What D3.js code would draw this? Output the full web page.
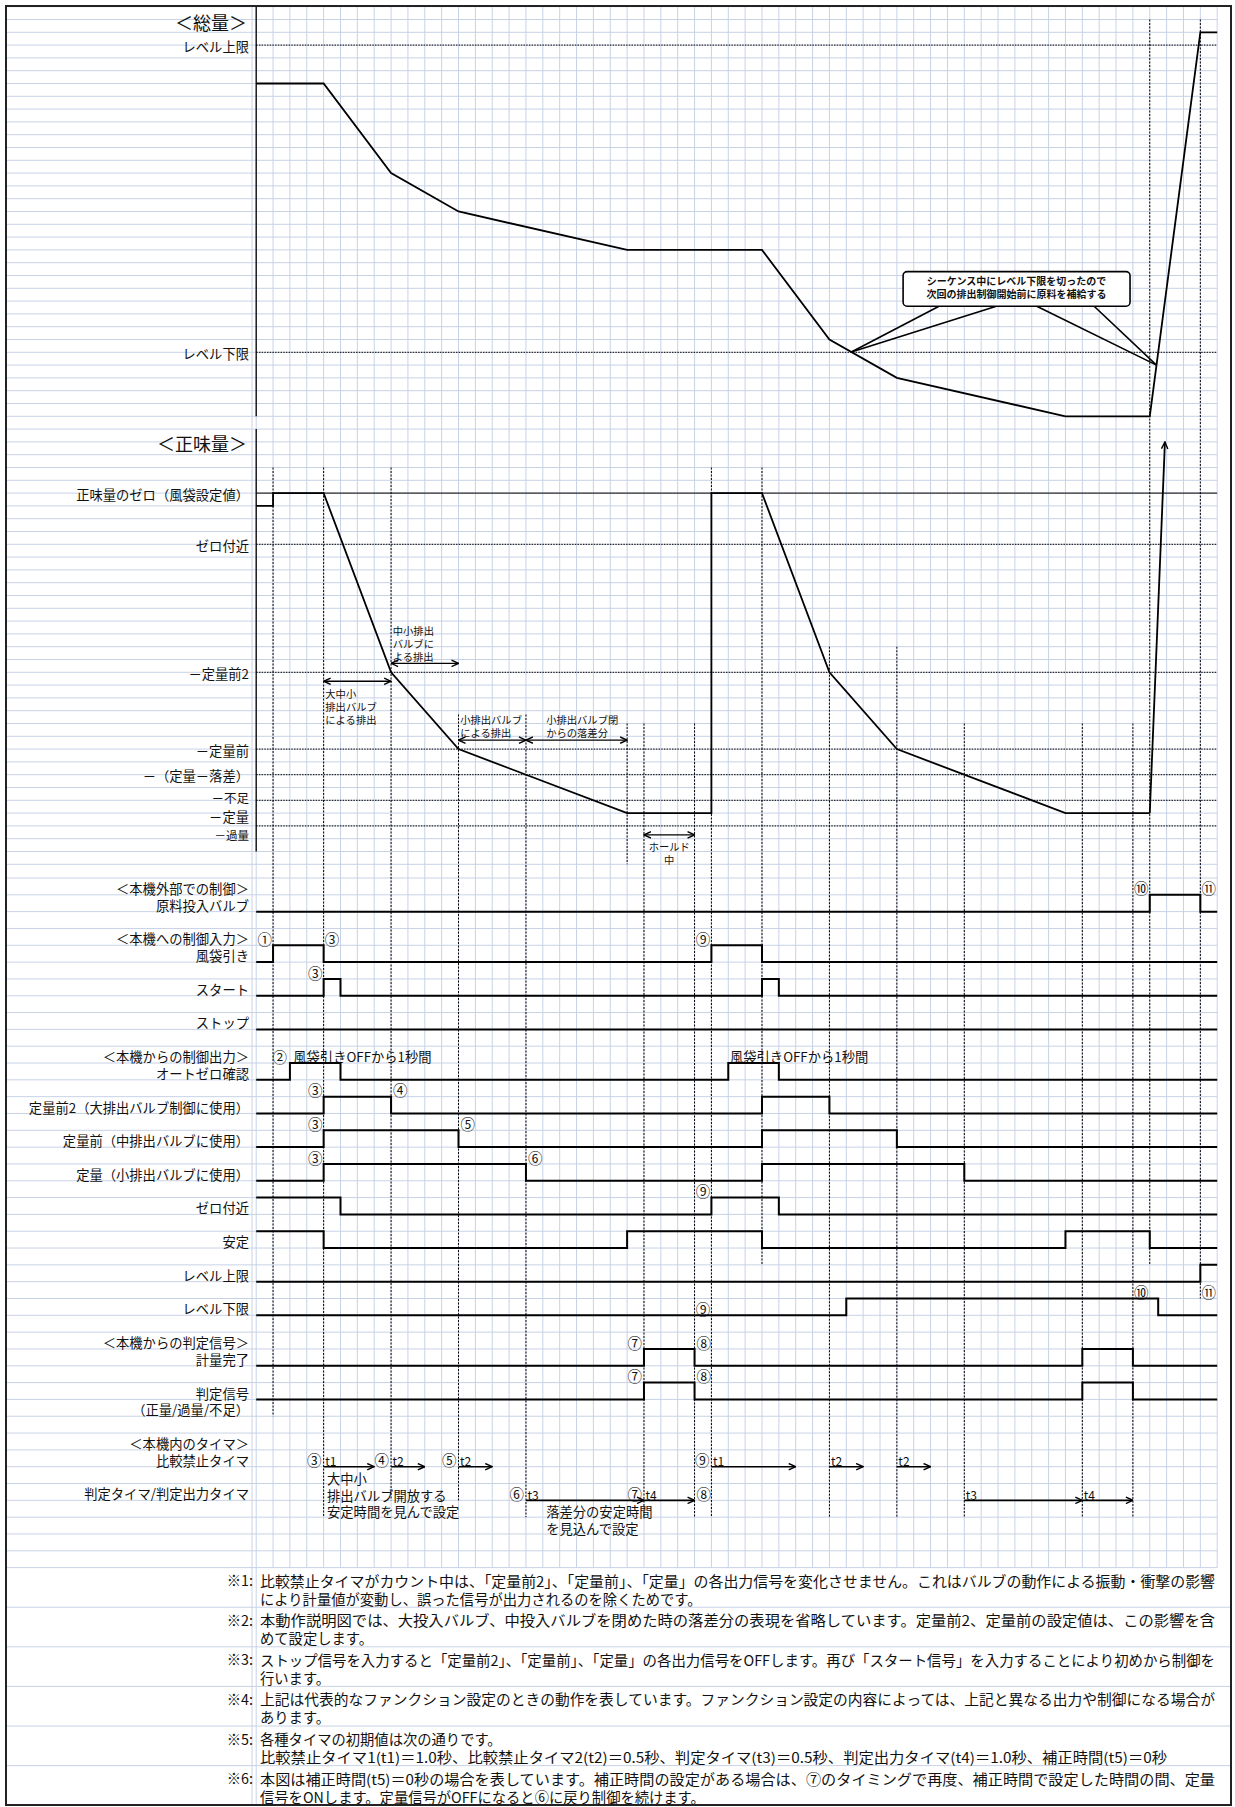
<!DOCTYPE html>
<html>
<head>
<meta charset="utf-8">
<script src="https://cdn.jsdelivr.net/npm/d3@7"></script>
<style>
body { margin: 0; background: #fff; }
text { font-family: "Noto Sans CJK JP", "Noto Sans", sans-serif; fill: #111; }
</style>
</head>
<body>
<div id="chart"></div>
<script>
// ---------- data ----------
// time axis = grid columns (0..57)
var totalTime  = [0, 4, 8, 12, 22, 30, 34, 38, 48, 53, 56, 57];
var totalValue = [26, 26, 19, 16, 13, 13, 6, 3, 0, 0, 30, 30];
var totalLevelName  = ["レベル上限", "レベル下限"];
var totalLevelValue = [29, 5];
var calloutLines = ["シーケンス中にレベル下限を切ったので", "次回の排出制御開始前に原料を補給する"];
var calloutAt = [35.3, 53.4];

var netTime  = [0, 1, 1, 4, 8, 12, 22, 27, 27, 30, 34, 38, 48, 53];
var netValue = [-1, -1, 0, 0, -14, -20, -25, -25, 0, 0, -14, -20, -25, -25];
var netRiseTime  = [53, 53.9];
var netRiseValue = [-25, 4];
var netLevelName  = ["正味量のゼロ（風袋設定値）", "ゼロ付近", "－定量前2", "－定量前", "－（定量－落差）", "－不足", "－定量", "－過量"];
var netLevelValue = [0, -4, -14, -20, -22, -24, -25, -26];
var netLevelStyle = ["solid", "dot", "dot", "dot", "dot", "dot", "none", "dot"];

var eventTime = [1, 4, 8, 12, 16, 22, 23, 26, 27, 30, 34, 38, 42, 49, 52, 53, 56];

var sigName = ["原料投入バルブ", "風袋引き", "スタート", "ストップ", "オートゼロ確認",
  "定量前2（大排出バルブ制御に使用）", "定量前（中排出バルブに使用）", "定量（小排出バルブに使用）",
  "ゼロ付近", "安定", "レベル上限", "レベル下限", "計量完了", "判定信号"];
var sigInit = [0, 0, 0, 0, 0, 0, 0, 0, 1, 1, 0, 0, 0, 0];
var sigEdges = [
  [53, 56],
  [1, 4, 27, 30],
  [4, 5, 30, 31],
  [],
  [2, 5, 28, 31],
  [4, 8, 30, 34],
  [4, 12, 30, 38],
  [4, 16, 30, 42],
  [5, 27, 31],
  [4, 22, 30, 48, 53],
  [56],
  [35, 53.5],
  [23, 26, 49, 52],
  [23, 26, 49, 52]
];
var groupHead = ["＜本機外部での制御＞", "＜本機への制御入力＞", "＜本機からの制御出力＞", "＜本機からの判定信号＞",
  "（正量/過量/不足）", "＜本機内のタイマ＞", "比較禁止タイマ", "判定タイマ/判定出力タイマ"];

var timerName  = ["t1", "t2", "t2", "t1", "t2", "t2", "t3", "t4", "t3", "t4"];
var timerStart = [4, 8, 12, 27, 34, 38, 16, 23, 42, 49];
var timerEnd   = [7, 10, 14, 32, 36, 40, 23, 26, 49, 52];
var timerLane  = [0, 0, 0, 0, 0, 0, 1, 1, 1, 1];

var markText = ["⑩", "⑪", "①", "③", "⑨", "③", "②", "③", "④", "③", "⑤", "③", "⑥", "⑨",
  "⑩", "⑪", "⑨", "⑦", "⑧", "⑦", "⑧", "③", "④", "⑤", "⑨", "⑥", "⑦", "⑧"];
var markTime = [52.5, 56.5, 0.5, 4.5, 26.5, 3.5, 1.4, 3.5, 8.55, 3.5, 12.55, 3.5, 16.55, 26.5,
  52.5, 56.5, 26.5, 22.45, 26.55, 22.45, 26.55, 3.45, 7.45, 11.45, 26.45, 15.45, 22.45, 26.55];

var notes = [
  ["※1:", "比較禁止タイマがカウント中は、「定量前2」、「定量前」、「定量」の各出力信号を変化させません。これはバルブの動作による振動・衝撃の影響", "により計量値が変動し、誤った信号が出力されるのを除くためです。"],
  ["※2:", "本動作説明図では、大投入バルブ、中投入バルブを閉めた時の落差分の表現を省略しています。定量前2、定量前の設定値は、この影響を含", "めて設定します。"],
  ["※3:", "ストップ信号を入力すると「定量前2」、「定量前」、「定量」の各出力信号をOFFします。再び「スタート信号」を入力することにより初めから制御を", "行います。"],
  ["※4:", "上記は代表的なファンクション設定のときの動作を表しています。ファンクション設定の内容によっては、上記と異なる出力や制御になる場合が", "あります。"],
  ["※5:", "各種タイマの初期値は次の通りです。", "比較禁止タイマ1(t1)＝1.0秒、比較禁止タイマ2(t2)＝0.5秒、判定タイマ(t3)＝0.5秒、判定出力タイマ(t4)＝1.0秒、補正時間(t5)＝0秒"],
  ["※6:", "本図は補正時間(t5)＝0秒の場合を表しています。補正時間の設定がある場合は、⑦のタイミングで再度、補正時間で設定した時間の間、定量", "信号をONします。定量信号がOFFになると⑥に戻り制御を続けます。"]
];

// ---------- layout ----------
var W = 1235, H = 1807;
var x  = d3.scaleLinear().domain([0, 57]).range([256.2, 1217.2]);
var yk = d3.scaleLinear().domain([0, 1]).range([6.7, 19.5]);      // upper sheet rows
var yj = d3.scaleLinear().domain([0, 1]).range([878, 894.82]);    // signal rows
var yTotal = d3.scaleLinear().domain([0, 32]).range([yk(32), yk(0)]);
var yNet   = d3.scaleLinear().domain([0, -26]).range([yk(38), yk(64)]);
var noteTop = yj(41), noteH = 39.6;

var netLabelShift = [0, 0, 0, 0, 0, -4, 2, 8];
var netLabelSize  = [13.3, 13.3, 13.3, 13.3, 13.3, 12.5, 13.3, 11.5];
var sigRow  = [2, 5, 7, 9, 12, 14, 16, 18, 20, 22, 24, 26, 29, 31];
var groupRow = [0.5, 3.5, 10.5, 27.5, 31.5, 33.5, 34.5, 36.5];
var markRow = [0.5, 0.5, 3.5, 3.5, 3.5, 5.5, 10.5, 12.5, 12.5, 14.5, 14.5, 16.5, 16.5, 18.5,
  24.5, 24.5, 25.5, 27.5, 27.5, 29.5, 29.5, 34.5, 34.5, 34.5, 34.5, 36.5, 36.5, 36.5];
var eventFrom = [yk(36), yk(36), yk(36), yk(55.3), yk(55.3), yk(56), yk(56), yk(56), yk(36), yk(36),
  yk(50), yk(50), yk(56), yk(56), yk(56), yk(1), yk(1)];
var eventTo = [yj(32), yj(38), yj(37), yj(37), yj(38), yk(67), yj(38), yj(38), yj(38), yj(23),
  yj(38), yj(38), yj(38), yj(38), yj(38), yj(23), yj(25)];
// widths of the note lines that run to the right edge of the sheet
var noteWidth = [[955, 0], [955, 0], [955, 0], [955, 0], [0, 907], [955, 0]];

var svg = d3.select("#chart").append("svg")
  .attr("width", W).attr("height", H)
  .style("display", "block");

svg.append("rect").attr("width", W).attr("height", H).attr("fill", "#fff");

var defs = svg.append("defs");
defs.append("marker").attr("id", "arr")
  .attr("viewBox", "0 0 8 8").attr("refX", 7.5).attr("refY", 4)
  .attr("markerWidth", 8).attr("markerHeight", 8).attr("markerUnits", "userSpaceOnUse")
  .attr("orient", "auto-start-reverse")
  .append("path").attr("d", "M0.5,0.8 L7.5,4 L0.5,7.2")
  .attr("fill", "none").attr("stroke", "#000").attr("stroke-width", 1.4);

function text(g, px, py, str, size, anchor, weight) {
  return g.append("text")
    .attr("x", px).attr("y", py)
    .attr("dominant-baseline", "central")
    .attr("text-anchor", anchor || "start")
    .style("font-size", size + "px")
    .style("font-weight", weight || "normal")
    .text(str);
}
// stacked lines in one text element
function multi(g, px, ys, strs, size, anchor) {
  var t = g.append("text")
    .attr("dominant-baseline", "central")
    .attr("text-anchor", anchor || "start")
    .style("font-size", size + "px");
  strs.forEach(function(s, i) { t.append("tspan").attr("x", px).attr("y", ys[i]).text(s); });
  return t;
}
function seg(g, x1, y1, x2, y2) {
  return g.append("line").attr("x1", x1).attr("y1", y1).attr("x2", x2).attr("y2", y2);
}

// ---------- sheet grid ----------
var grid = svg.append("g").attr("stroke", "#c8d2e6").attr("stroke-width", 1);
d3.range(0, 68).forEach(function(k) { seg(grid, 6, yk(k), x(57), yk(k)); });
d3.range(0, 42).forEach(function(j) { seg(grid, 6, yj(j), x(57), yj(j)); });
d3.range(0, 58).forEach(function(c) { seg(grid, x(c), 6, x(c), noteTop); });
seg(grid, 252, 6, 252, H - 2);
seg(grid, x(0), noteTop, x(0), H - 2);
d3.range(1, 6).forEach(function(n) { seg(grid, 6, noteTop + n * noteH, 1231, noteTop + n * noteH); });

// ---------- axes of the two level charts ----------
var ax = svg.append("g").attr("stroke", "#000").attr("stroke-width", 1.3);
seg(ax, x(0), yk(0), x(0), yk(32));
seg(ax, x(0), yk(33), x(0), yk(66));

var lbl = svg.append("g");
text(lbl, 247, 21.5, "＜総量＞", 18, "end");
text(lbl, 247, 443, "＜正味量＞", 18, "end");

// ---------- total amount ----------
var lv = svg.append("g");
totalLevelValue.forEach(function(v, i) {
  seg(lv, x(0), yTotal(v), x(57), yTotal(v))
    .attr("stroke", "#000").attr("stroke-width", 1).attr("stroke-dasharray", "1.5,1.2");
  text(lbl, 249, yTotal(v) + 1, totalLevelName[i], 13.3, "end");
});

var lineFn = d3.line();
svg.append("path")
  .attr("d", lineFn(totalTime.map(function(t, i) { return [x(t), yTotal(totalValue[i])]; })))
  .attr("fill", "none").attr("stroke", "#000").attr("stroke-width", 1.8);

// callout
function totalAt(t) {
  var i = d3.bisectRight(totalTime, t) - 1;
  var f = (t - totalTime[i]) / (totalTime[i + 1] - totalTime[i]);
  return totalValue[i] + f * (totalValue[i + 1] - totalValue[i]);
}
var co = svg.append("g");
var legFrom = [40.5, 43.9, 46.3, 49.7];
var legTo = [0, 0, 1, 1];
legFrom.forEach(function(c, i) {
  var t = calloutAt[legTo[i]];
  seg(co, x(c), yk(23.4), x(t), yTotal(totalAt(t))).attr("stroke", "#000").attr("stroke-width", 1.6);
});
co.append("rect")
  .attr("x", x(38.37)).attr("y", yk(20.7))
  .attr("width", x(51.83) - x(38.37)).attr("height", yk(23.4) - yk(20.7))
  .attr("rx", 4).attr("fill", "#fff").attr("stroke", "#000").attr("stroke-width", 1.6);
multi(co, (x(38.37) + x(51.83)) / 2, [yk(21.35), yk(22.4)], calloutLines, 10, "middle")
  .style("font-weight", "bold");

// ---------- net amount ----------
netLevelValue.forEach(function(v, i) {
  if (netLevelStyle[i] !== "none") {
    var l = seg(lv, x(0), yNet(v), x(57), yNet(v)).attr("stroke", "#000").attr("stroke-width", 1);
    if (netLevelStyle[i] === "dot") l.attr("stroke-dasharray", "1.5,1.2");
  }
  text(lbl, 249, yNet(v) + 1 + netLabelShift[i], netLevelName[i], netLabelSize[i], "end");
});

// event guide lines
var ev = svg.append("g").attr("stroke", "#000").attr("stroke-width", 1).attr("stroke-dasharray", "2,1.5");
eventTime.forEach(function(t, i) { seg(ev, x(t), eventFrom[i], x(t), eventTo[i]); });

svg.append("path")
  .attr("d", lineFn(netTime.map(function(t, i) { return [x(t), yNet(netValue[i])]; })))
  .attr("fill", "none").attr("stroke", "#000").attr("stroke-width", 1.8);
svg.append("path")
  .attr("d", lineFn(netRiseTime.map(function(t, i) { return [x(t), yNet(netRiseValue[i])]; })))
  .attr("fill", "none").attr("stroke", "#000").attr("stroke-width", 1.8)
  .attr("marker-end", "url(#arr)");

// discharge annotations
var an = svg.append("g");
function dblArrow(c1, c2, k) {
  seg(an, x(c1), yk(k), x(c2), yk(k))
    .attr("stroke", "#000").attr("stroke-width", 1.4)
    .attr("marker-start", "url(#arr)").attr("marker-end", "url(#arr)");
}
dblArrow(4, 8, 52.7);
dblArrow(8, 12, 51.3);
dblArrow(12, 16, 57.3);
dblArrow(16, 22, 57.3);
dblArrow(23, 26, 64.7);
function block(lines, c, k, anchor) {
  multi(an, x(c), lines.map(function(s, i) { return yk(k + i); }), lines, 10.3, anchor);
}
block(["中小排出", "バルブに", "よる排出"], 8.1, 48.7);
block(["大中小", "排出バルブ", "による排出"], 4.1, 53.65);
block(["小排出バルブ", "による排出"], 12.1, 55.65);
block(["小排出バルブ閉", "からの落差分"], 17.2, 55.65);
block(["ホールド", "中"], 24.5, 65.6, "middle");

// ---------- signals ----------
var sg = svg.append("g");
sigName.forEach(function(name, i) {
  var lo = yj(sigRow[i]), hi = yj(sigRow[i] - 1);
  var level = sigInit[i];
  var d = "M" + x(0) + "," + (level ? hi : lo);
  sigEdges[i].forEach(function(e) {
    level = 1 - level;
    d += "H" + x(e) + "V" + (level ? hi : lo);
  });
  d += "H" + x(57);
  sg.append("path").attr("d", d).attr("fill", "none").attr("stroke", "#000").attr("stroke-width", 2);
});

// row labels on the left, rows that touch are set as one text block
var rowLabels = sigName.map(function(s, i) { return { s: s, r: sigRow[i] - 0.5 }; })
  .concat(groupHead.map(function(s, i) { return { s: s, r: groupRow[i] }; }))
  .sort(function(a, b) { return a.r - b.r; });
var runs = [];
rowLabels.forEach(function(d) {
  var last = runs[runs.length - 1];
  if (last && d.r - last[last.length - 1].r === 1) last.push(d); else runs.push([d]);
});
runs.forEach(function(run) {
  multi(lbl, 249, run.map(function(d) { return yj(d.r) + 1.5; }), run.map(function(d) { return d.s; }), 13.3, "end");
});

text(an, x(2.2), yj(10.5) + 1.5, "風袋引きOFFから1秒間", 13.3);
text(an, x(28.1), yj(10.5) + 1.5, "風袋引きOFFから1秒間", 13.3);

markText.forEach(function(s, i) {
  text(an, x(markTime[i]), yj(markRow[i]) + 1.5, s, 14.5, "middle");
});

// ---------- timers ----------
var tg = svg.append("g");
timerName.forEach(function(s, i) {
  var ly = yj(35 + timerLane[i] * 2);
  seg(tg, x(timerStart[i]), ly, x(timerEnd[i]), ly)
    .attr("stroke", "#000").attr("stroke-width", 1.6).attr("marker-end", "url(#arr)");
  text(tg, x(timerStart[i]) + 1.5, ly - 6, s, 12);
});
multi(an, x(4.2), [yj(35.6) + 1, yj(36.6) + 1, yj(37.6) + 1], ["大中小", "排出バルブ開放する", "安定時間を見んで設定"], 13.3);
multi(an, x(17.2), [yj(37.6) + 1, yj(38.6) + 1], ["落差分の安定時間", "を見込んで設定"], 13.3);

// ---------- notes ----------
var nt = svg.append("g");
notes.forEach(function(n, i) {
  var top = noteTop + i * noteH;
  text(nt, 253, top + 12, n[0], 14.3, "end");
  var t = nt.append("text").attr("dominant-baseline", "central").style("font-size", "14.3px");
  [n[1], n[2]].forEach(function(s, r) {
    var sp = t.append("tspan").attr("x", 260).attr("y", top + 12 + r * 18).text(s);
    if (noteWidth[i][r]) sp.attr("textLength", noteWidth[i][r]).attr("lengthAdjust", "spacingAndGlyphs");
  });
});

// sheet border
svg.append("rect").attr("x", 6).attr("y", 6).attr("width", 1225).attr("height", H - 8)
  .attr("fill", "none").attr("stroke", "#222").attr("stroke-width", 2);
</script>
</body>
</html>
